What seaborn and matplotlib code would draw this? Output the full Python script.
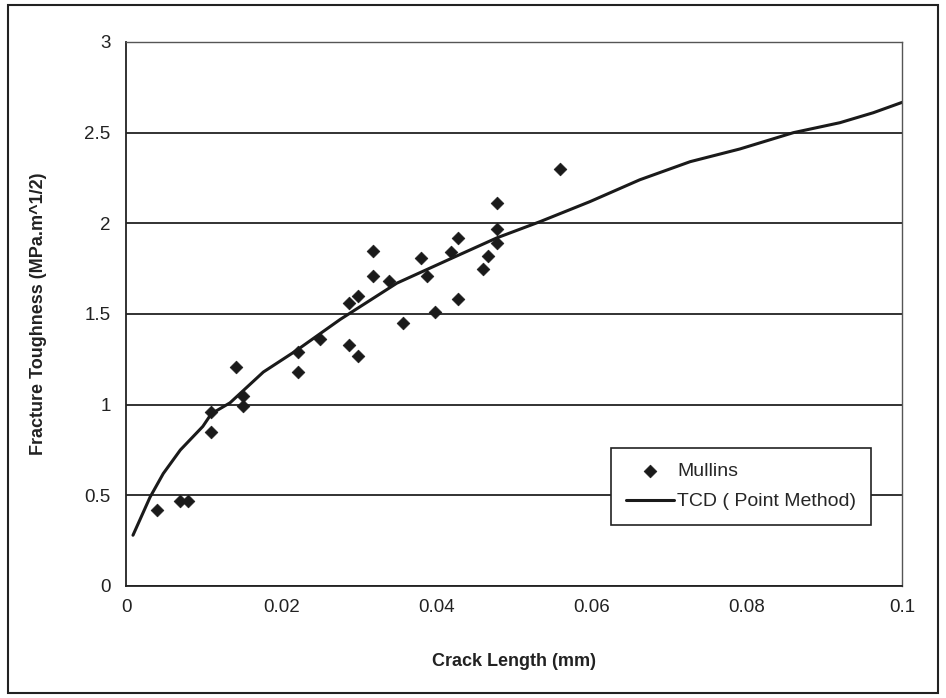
import matplotlib
matplotlib.use("Agg")
import matplotlib.pyplot as plt
import seaborn as sns
import pandas as pd
from matplotlib.patches import Rectangle

# Data
mullins_x = [0.004, 0.007, 0.008, 0.011, 0.011, 0.0142, 0.0151, 0.0151, 0.0222, 0.0222,
             0.025, 0.0287, 0.0299, 0.0287, 0.0299, 0.0318, 0.0318, 0.0339, 0.0357, 0.038,
             0.0388, 0.0398, 0.0419, 0.0428, 0.0428, 0.046, 0.0466, 0.0478, 0.0478, 0.0478, 0.0559]
mullins_y = [0.42, 0.47, 0.47, 0.85, 0.96, 1.21, 1.05, 0.99, 1.29, 1.18,
             1.36, 1.56, 1.60, 1.33, 1.27, 1.85, 1.71, 1.68, 1.45, 1.81,
             1.71, 1.51, 1.84, 1.92, 1.58, 1.75, 1.82, 2.11, 1.97, 1.89, 2.30]

tcd_x = [0.0009, 0.0031, 0.0048, 0.0070, 0.0099, 0.0110, 0.0134, 0.0177, 0.0220, 0.0276,
         0.0349, 0.0421, 0.0478, 0.0534, 0.0598, 0.0662, 0.0727, 0.0791, 0.0860, 0.0920,
         0.0963, 0.1002]
tcd_y = [0.28, 0.49, 0.62, 0.75, 0.88, 0.95, 1.01, 1.18, 1.30, 1.47,
         1.67, 1.81, 1.92, 2.01, 2.12, 2.24, 2.34, 2.41, 2.50, 2.555,
         2.61, 2.67]

x_ticks = [0, 0.02, 0.04, 0.06, 0.08, 0.1]
x_labels = ["0", "0.02", "0.04", "0.06", "0.08", "0.1"]
y_ticks = [0, 0.5, 1, 1.5, 2, 2.5, 3]
y_labels = ["0", "0.5", "1", "1.5", "2", "2.5", "3"]

sns.set_style("white")
plt.rcParams['font.family'] = ['Liberation Sans', 'DejaVu Sans']

fig = plt.figure(figsize=(9.46, 6.98), dpi=100)
fig.patches.append(Rectangle((0.008, 0.007), 0.984, 0.986, transform=fig.transFigure,
                             fill=False, edgecolor="#222222", linewidth=1.5))
ax = fig.add_axes([126/946, 1-586/698, 776/946, 544/698])

df_m = pd.DataFrame({"x": mullins_x, "y": mullins_y})
df_t = pd.DataFrame({"x": tcd_x, "y": tcd_y})

sns.scatterplot(data=df_m, x="x", y="y", marker="D", s=42, color="#1a1a1a",
                edgecolor="#1a1a1a", linewidth=0.5, ax=ax, label="Mullins", zorder=3)
sns.lineplot(data=df_t, x="x", y="y", color="#1a1a1a", linewidth=2.2, ax=ax,
             label="TCD ( Point Method)", sort=False, estimator=None, zorder=2)

ax.set_xlim(0, 0.1)
ax.set_ylim(0, 3)
ax.set_xticks(x_ticks)
ax.set_xticklabels(x_labels)
ax.set_yticks(y_ticks)
ax.set_yticklabels(y_labels)
ax.tick_params(axis="both", direction="out", length=5, width=1.2, colors="#222222",
               labelsize=13.5, pad=6)
ax.tick_params(axis="x", pad=4)
ax.yaxis.grid(True, color="#222222", linewidth=1.3)
ax.set_axisbelow(True)
for side in ["left", "bottom"]:
    ax.spines[side].set_color("#222222")
    ax.spines[side].set_linewidth(1.3)
for side in ["top", "right"]:
    ax.spines[side].set_visible(True)
    ax.spines[side].set_color("#555555")
    ax.spines[side].set_linewidth(1.0)

ax.set_xlabel("Crack Length (mm)", fontsize=13, fontweight="bold", color="#222222", labelpad=27)
ax.set_ylabel("Fracture Toughness (MPa.m^1/2)", fontsize=13, fontweight="bold",
              color="#222222", labelpad=27)

leg = ax.legend(loc="lower left", bbox_to_anchor=(0.625, 0.112), fontsize=14,
                frameon=True, fancybox=False, edgecolor="#222222", framealpha=1,
                handlelength=2.5, handletextpad=0.15, borderpad=0.75, labelspacing=0.65,
                borderaxespad=0)
leg.get_frame().set_linewidth(1.2)

fig.savefig("out.png", dpi=100)
